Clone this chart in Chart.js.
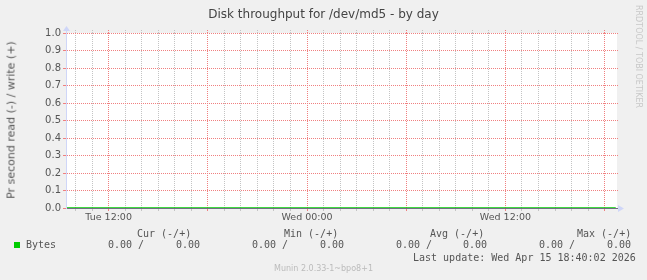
<!DOCTYPE html>
<html><head><meta charset="utf-8">
<script src="https://cdn.jsdelivr.net/npm/chart.js@4"></script>
<style>
html,body{margin:0;padding:0;background:#f0f0f0;}
#wrap{position:relative;width:647px;height:280px;overflow:hidden;font-family:'DejaVu Sans',sans-serif;color:#555;}
canvas{position:absolute;left:0;top:0;}
.t{position:absolute;white-space:pre;line-height:1;}
.m{font-family:'DejaVu Sans Mono',monospace;font-size:10px;color:#555;}
</style></head><body>
<div id="wrap"><canvas id="c" width="647" height="280"></canvas></div>
<script>
// ---- data ----
const chartTitle = 'Disk throughput for /dev/md5 - by day';
const yAxisTitle = 'Pr second read (-) / write (+)';
const seriesName = 'Bytes';
// hours since Tue 00:00
const timesH = [9.42, 12, 18, 24, 30, 36, 42, 42.67];
const readValues = [0, 0, 0, 0, 0, 0, 0, 0];
const writeValues = [0, 0, 0, 0, 0, 0, 0, 0];
const xRange = [9.42, 42.75];
const xTickHours = [10,11,12,13,14,15,16,17,18,19,20,21,22,23,24,25,26,27,28,29,30,31,32,33,34,35,36,37,38,39,40,41,42];
const xTickLabels = {12: 'Tue 12:00', 24: 'Wed 00:00', 36: 'Wed 12:00'};
const yTicks = [0, 0.1, 0.2, 0.3, 0.4, 0.5, 0.6, 0.7, 0.8, 0.9, 1.0];
const statHeads = ['Cur (-/+)', 'Min (-/+)', 'Avg (-/+)', 'Max (-/+)'];
const statRead = [0, 0, 0, 0];
const statWrite = [0, 0, 0, 0];
const lastUpdate = 'Last update: Wed Apr 15 18:40:02 2026';
const footer = 'Munin 2.0.33-1~bpo8+1';
const sideText = 'RRDTOOL / TOBI OETIKER';

// ---- layout ----
const wrap = document.getElementById('wrap');
function addText(txt, cls, style) {
  const d = document.createElement('div');
  d.className = 't ' + (cls || '');
  d.textContent = txt;
  Object.assign(d.style, style);
  wrap.appendChild(d);
  return d;
}
addText(chartTitle, '', {left: '0px', width: '647px', textAlign: 'center', top: '8px', fontSize: '12px', color: '#444'});
addText(yAxisTitle, '', {left: '10.5px', top: '120px', fontSize: '11px', color: '#555', transform: 'translate(-50%,-50%) rotate(-90deg)'});
addText(sideText, '', {left: '634px', top: '5px', fontSize: '8px', color: '#c8c8c8', writingMode: 'vertical-rl'});

const headX = [137, 284, 430, 577];
const readX = [108, 252, 396, 539];
const writeX = [176, 320, 463, 607];
statHeads.forEach((h, i) => addText(h, 'm', {left: headX[i] + 'px', top: '229px'}));
statRead.forEach((v, i) => addText(v.toFixed(2) + ' /', 'm', {left: readX[i] + 'px', top: '240px'}));
statWrite.forEach((v, i) => addText(v.toFixed(2), 'm', {left: writeX[i] + 'px', top: '240px'}));
addText(seriesName, 'm', {left: '26px', top: '240px'});
const sq = document.createElement('div');
Object.assign(sq.style, {position: 'absolute', left: '14px', top: '242px', width: '6px', height: '6px', background: '#00cc00'});
wrap.appendChild(sq);
addText(lastUpdate, 'm', {left: '413px', top: '253px'});
addText(footer, '', {left: '0px', width: '647px', textAlign: 'center', top: '265px', fontSize: '8px', color: '#bbbbbb'});

Chart.defaults.font.family = "'DejaVu Sans', sans-serif";
Chart.defaults.color = '#555';

const axisBlue = '#cfd6f8';
const majorGrid = '#f08080';
const minorGrid = '#c4c4c4';
const decor = {
  id: 'decor',
  beforeDraw(chart) {
    const a = chart.chartArea, c = chart.ctx;
    c.save();
    c.fillStyle = '#ffffff';
    c.fillRect(a.left, a.top, a.right - a.left, a.bottom - a.top);
    c.restore();
  },
  afterDraw(chart) {
    const a = chart.chartArea, c = chart.ctx;
    const lx = Math.floor(a.left) + 0.5, by = Math.floor(a.bottom) + 0.5;
    c.save();
    c.strokeStyle = axisBlue; c.lineWidth = 1;
    c.beginPath(); c.moveTo(lx, a.top); c.lineTo(lx, a.top - 3); c.stroke();
    c.fillStyle = axisBlue;
    c.beginPath(); c.moveTo(lx, a.top - 7); c.lineTo(lx - 3.5, a.top - 2); c.lineTo(lx + 3.5, a.top - 2); c.closePath(); c.fill();
    c.beginPath(); c.moveTo(a.right + 7, by); c.lineTo(a.right + 1, by - 3.5); c.lineTo(a.right + 1, by + 3.5); c.closePath(); c.fill();
    c.restore();
  }
};

const xGridColor = ctx => (ctx.tick && ctx.tick.value % 6 === 0) ? majorGrid : minorGrid;

new Chart(document.getElementById('c'), {
  type: 'line',
  data: {
    datasets: [
      {label: seriesName + ' read', data: timesH.map((t, i) => ({x: t, y: readValues[i]})), borderColor: '#00cc00', borderWidth: 1, pointRadius: 0, fill: false},
      {label: seriesName + ' write', data: timesH.map((t, i) => ({x: t, y: writeValues[i]})), borderColor: '#00cc00', borderWidth: 1, pointRadius: 0, fill: false}
    ]
  },
  options: {
    responsive: false,
    animation: false,
    devicePixelRatio: 1,
    layout: {padding: {left: 0, top: 30, right: 28, bottom: 52}},
    plugins: {legend: {display: false}, tooltip: {enabled: false}, title: {display: false}},
    scales: {
      x: {
        type: 'linear', min: xRange[0], max: xRange[1],
        afterFit(s) { s.height = 20; },
        afterBuildTicks(s) { s.ticks = xTickHours.map(v => ({value: v})); },
        ticks: {autoSkip: false, maxRotation: 0, padding: 1, font: {size: 9.5}, color: '#555',
          callback: v => xTickLabels[v] || ''},
        grid: {color: xGridColor, tickLength: 3, lineWidth: 1},
        border: {color: '#6f6f82', width: 1, dash: [1, 1], z: 1}
      },
      xTop: {
        type: 'linear', position: 'top', min: xRange[0], max: xRange[1],
        afterFit(s) { s.height = 3; },
        afterBuildTicks(s) { s.ticks = xTickHours.map(v => ({value: v})); },
        ticks: {display: false, autoSkip: false},
        grid: {color: xGridColor, tickLength: 3, drawOnChartArea: false, tickBorderDash: [1, 1]},
        border: {display: false}
      },
      y: {
        min: 0, max: 1,
        afterFit(s) { s.width = 66; },
        afterBuildTicks(s) { s.ticks = yTicks.map(v => ({value: v})); },
        ticks: {padding: 2, font: {size: 10}, color: '#555', callback: v => Number(v).toFixed(1)},
        grid: {color: majorGrid, tickLength: 3, lineWidth: 1},
        border: {color: axisBlue, width: 1, dash: [1, 1], z: 1}
      },
      yRight: {
        position: 'right', min: 0, max: 1,
        afterFit(s) { s.width = 2; },
        afterBuildTicks(s) { s.ticks = yTicks.map(v => ({value: v})); },
        ticks: {display: false},
        grid: {color: majorGrid, tickLength: 2, drawOnChartArea: false, tickBorderDash: [1, 1]},
        border: {display: false}
      }
    }
  },
  plugins: [decor]
});
</script>
</body></html>
